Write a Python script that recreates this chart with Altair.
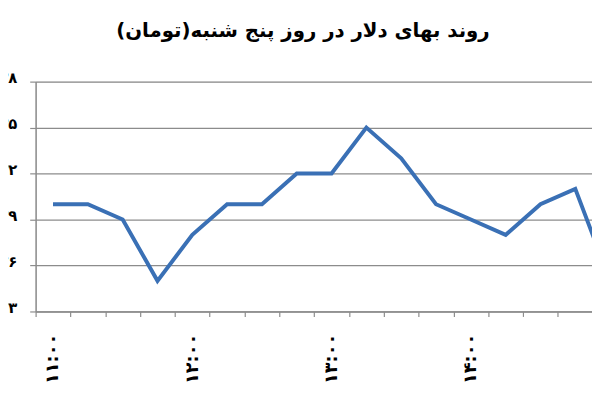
import altair as alt
import pandas as pd

# --- data -------------------------------------------------------------------
times = ["۱۱:۰۰", "۱۱:۱۵", "۱۱:۳۰", "۱۱:۴۵", "۱۲:۰۰", "۱۲:۱۵", "۱۲:۳۰", "۱۲:۴۵",
         "۱۳:۰۰", "۱۳:۱۵", "۱۳:۳۰", "۱۳:۴۵", "۱۴:۰۰", "۱۴:۱۵", "۱۴:۳۰", "۱۴:۴۵",
         "۱۵:۰۰"]
prices = [3330, 3330, 3329, 3325, 3328, 3330, 3330, 3332,
          3332, 3335, 3333, 3330, 3329, 3328, 3330, 3331,
          3325]
y_ticks = [3323, 3326, 3329, 3332, 3335, 3338]
label_every = 4
title_text = "روند بهای دلار در روز پنج شنبه(تومان)"

fa = str.maketrans("0123456789", "۰۱۲۳۴۵۶۷۸۹")

df = pd.DataFrame({
    "pos": [i + 0.5 for i in range(len(times))],
    "time": times,
    "price": prices,
})

# x axis: ticks on category boundaries, labels on every 4th category centre
label_pos = [i + 0.5 for i in range(0, len(times) - 1, label_every)]
x_values = list(range(0, 17)) + label_pos
x_expr = " : ".join(
    f"datum.value == {p} ? '{times[int(p)]}'" for p in label_pos
) + " : ''"

y_expr = " : ".join(
    f"datum.value == {v} ? '{str(v).translate(fa)}'" for v in y_ticks
) + " : ''"

grey = "#8c8c8c"
font = "DejaVu Sans"

chart = alt.Chart(df).mark_line(
    color="#3A70B5", strokeWidth=4, clip=True
).encode(
    x=alt.X(
        "pos:Q",
        scale=alt.Scale(domain=[0, 15.98], nice=False, zero=False),
        axis=alt.Axis(
            values=x_values, labelExpr=x_expr, title=None, grid=False,
            domainColor=grey, domainWidth=1.5, tickColor=grey, tickWidth=1.2,
            tickSize=5,
            tickOpacity={"condition": {"test": "datum.value % 1 != 0", "value": 0}, "value": 1},
            labelAngle=270, labelFont=font, labelFontSize=18,
            labelFontWeight="bold", labelColor="#000000", labelPadding=17,
            labelOverlap=False, labelBound=False, labelFlush=False,
        ),
    ),
    y=alt.Y(
        "price:Q",
        scale=alt.Scale(domain=[3323, 3338], nice=False, zero=False),
        axis=alt.Axis(
            values=y_ticks, labelExpr=y_expr, title=None, grid=True,
            gridColor=grey, gridWidth=1.3, domainColor=grey, domainWidth=1.5,
            tickColor=grey, tickWidth=1.2, tickSize=6,
            labelFont=font, labelFontSize=15, labelFontWeight="bold",
            labelColor="#000000", labelPadding=13, labelOffset=-4,
            labelOverlap=False, labelBound=False, labelFlush=False,
        ),
    ),
).properties(
    width=564,
    height=233,
    title=alt.TitleParams(
        title_text, font=font, fontSize=20, fontWeight="bold", color="#000000",
        anchor="middle", offset=30, dx=-11,
    ),
    autosize=alt.AutoSizeParams(type="none"),
    padding={"left": 28, "top": 72, "right": 0, "bottom": 79},
).configure_view(stroke=None).configure(background="white")

chart.save("out.html", embed_options={"renderer": "svg", "actions": False})
